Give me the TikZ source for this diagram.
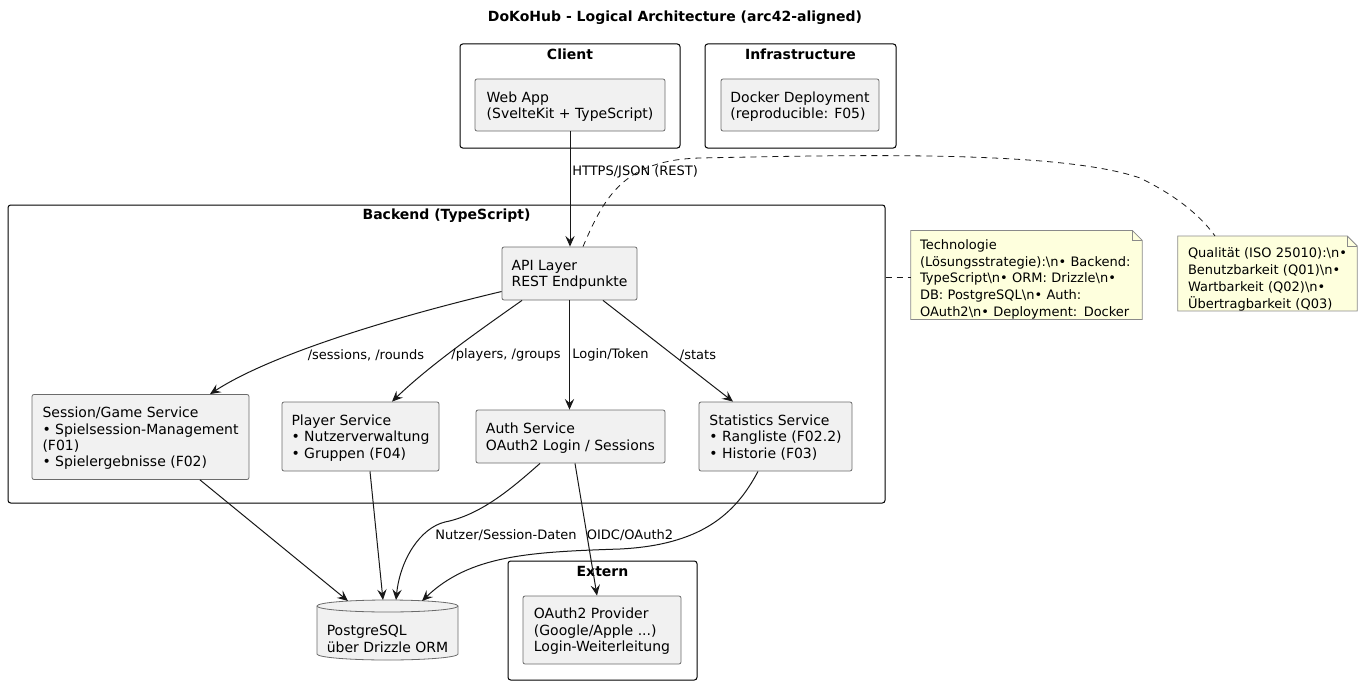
\documentclass[tikz,border=0pt]{standalone}
\usepackage{fontspec}
\setmainfont{DejaVu Sans}
\usetikzlibrary{arrows.meta,calc,backgrounds}
\definecolor{cfill}{HTML}{F1F1F1}
\definecolor{cline}{HTML}{6B6B6B}
\definecolor{nfill}{HTML}{FEFFDD}
\definecolor{nline}{HTML}{8A8A8A}
\definecolor{ink}{HTML}{181818}
\newcommand\fcomp{\fontsize{10.5}{12.3}\selectfont}
\newcommand\fnote{\fontsize{9.75}{12.6}\selectfont}
\newcommand\flab{\fontsize{9.75}{11.7}\selectfont}
\newcommand\fpkg{\bfseries\fontsize{10.5}{12}\selectfont}
\begin{document}
\begin{tikzpicture}[x=0.75pt,y=-0.75pt,
  comp/.style={draw=cline, fill=cfill, line width=0.6pt, rounded corners=1.5pt, align=left, font=\fcomp, inner sep=0pt, text depth=-1.6pt},
  pkg/.style={draw=black, line width=0.75pt, rounded corners=2pt, inner sep=0pt},
  pkgtitle/.style={font=\fpkg, inner sep=0pt},
  note/.style={align=left, font=\fnote, inner ysep=0pt, execute at begin node={\rule{0pt}{14pt}}},
  notebox/.style={draw=nline, fill=nfill, line width=0.6pt},
  lab/.style={font=\flab, inner sep=0pt},
  arr/.style={draw=ink, line width=0.75pt, -{Stealth[length=8pt,width=7pt,inset=3pt]}},
  notelink/.style={draw=ink, line width=0.6pt, dash pattern=on 4.5pt off 3.75pt}
]
\useasboundingbox (0,0) rectangle (1363,685);

\node[font=\fpkg] (title) at (675,18) {DoKoHub - Logical Architecture (arc42-aligned)};

% packages
\node[pkg, minimum width=165pt, minimum height=78pt] (client) at (570,96) {};
\node[pkgtitle] (clientT) at ($(client.north)+(0,11)$) {Client};
\node[pkg, minimum width=143.25pt, minimum height=78pt] (infra) at (800.5,96) {};
\node[pkgtitle] (infraT) at ($(infra.north)+(0,11)$) {Infrastructure};
\node[pkg, minimum width=657.75pt, minimum height=223.5pt] (backend) at (446.5,354) {};
\node[pkgtitle] (backendT) at ($(backend.north)+(0,11)$) {Backend (TypeScript)};
\node[pkg, minimum width=141.75pt, minimum height=89.25pt] (extern) at (602.5,620.5) {};
\node[pkgtitle] (externT) at ($(extern.north)+(0,11)$) {Extern};

% components
\node[comp, minimum width=142.5pt, minimum height=39pt] (web) at (570,105) {Web App\\(SvelteKit + TypeScript)};
\node[comp, minimum width=118.5pt, minimum height=39pt] (docker) at (800,105) {Docker Deployment\\(reproducible: F05)};
\node[comp, minimum width=101.25pt, minimum height=39.75pt] (api) at (569.5,273.5) {API Layer\\REST Endpunkte};
\node[comp, minimum width=162.75pt, minimum height=63.75pt] (sess) at (140.5,437) {Session/Game Service\\• Spielsession-Management\\(F01)\\• Spielergebnisse (F02)};
\node[comp, minimum width=117.75pt, minimum height=51.75pt] (player) at (360.5,436.5) {Player Service\\• Nutzerverwaltung\\• Gruppen (F04)};
\node[comp, minimum width=141.75pt, minimum height=39.75pt] (auth) at (570.5,436.5) {Auth Service\\OAuth2 Login / Sessions};
\node[comp, minimum width=114.75pt, minimum height=51.75pt] (stats) at (775.5,436.5) {Statistics Service\\• Rangliste (F02.2)\\• Historie (F03)};
\node[comp, minimum width=118.5pt, minimum height=51pt] (prov) at (602,630) {OAuth2 Provider\\(Google/Apple ...)\\Login-Weiterleitung};

% database cylinder
\draw[draw=cline, fill=cfill, line width=0.6pt] (317,606) -- (317,654)
  arc[start angle=180, end angle=360, x radius=52.875pt, y radius=4.5pt] -- (458,606)
  arc[start angle=0, end angle=180, x radius=52.875pt, y radius=4.5pt] -- cycle;
\draw[draw=cline, line width=0.6pt] (317,606) arc[start angle=180, end angle=360, x radius=52.875pt, y radius=4.5pt];
\node[align=left, font=\fcomp, inner sep=0pt] (db) at (387.5,639) {PostgreSQL\\über Drizzle ORM};

% notes
\node[note, text width=159.75pt, inner xsep=6.75pt, minimum height=64.5pt] (tech) at (1026.5,275) {Technologie\\(Lösungsstrategie):\textbackslash n• Backend:\\TypeScript\textbackslash n• ORM: Drizzle\textbackslash n•\\DB: PostgreSQL\textbackslash n• Auth:\\OAuth2\textbackslash n• Deployment: Docker};
\node[note, text width=119.25pt, inner xsep=7.5pt, minimum height=54.75pt, execute at begin node={\rule{0pt}{16pt}}] (qual) at (1267.5,273.5) {Qualität (ISO 25010):\textbackslash n•\\Benutzbarkeit (Q01)\textbackslash n•\\Wartbarkeit (Q02)\textbackslash n•\\Übertragbarkeit (Q03)};
\begin{scope}[on background layer]
\foreach \n in {tech,qual}{
  \draw[notebox] (\n.north west) -- ($(\n.north east)+(-10,0)$) -- ($(\n.north east)+(0,10)$) -- (\n.south east) -- (\n.south west) -- cycle;
  \draw[notebox, fill=none] ($(\n.north east)+(-10,0)$) -- ($(\n.north east)+(-10,10)$) -- ($(\n.north east)+(0,10)$);
}
\end{scope}

% connectors
\draw[arr] (web.south) -- (web.south |- api.north);
\node[lab, anchor=west] (lhttp) at (572,172) {HTTPS/JSON (REST)};
\draw[notelink] ($(api.north)+(13.5,0)$) .. controls (605,195) and (625,160) .. (700,158)
  .. controls (850,155) and (1060,150) .. (1140,178)
  .. controls (1175,195) and (1200,215) .. ($(qual.north)+(-52.5,0)$);
\draw[notelink] ($(backend.east |- tech.west)+(0,2)$) -- ($(tech.west)+(0,2)$);

\draw[arr] ($(api.west)+(0,18)$) .. controls (390,318) and (270,355) .. ($(sess.north)+(69.5,0)$);
\draw[arr] ($(api.south)+(-47.5,0)$) .. controls (480,330) and (430,365) .. ($(player.north)+(31.5,0)$);
\draw[arr] (api.south) -- (api.south |- auth.north);
\draw[arr] ($(api.south)+(33.5,0)$) -- ($(stats.north)+(-42.5,0)$);
\node[lab] (lsess) at (366,355) {/sessions, /rounds};
\node[lab] (lplay) at (506,355) {/players, /groups};
\node[lab, anchor=west] (llog) at (572,355) {Login/Token};
\node[lab] (lstat) at (698,355) {/stats};

\draw[arr] ($(sess.south)+(59.5,0)$) -- ($(db.center)+(-39.5,-38)$);
\draw[arr] ($(player.south)+(9.5,0)$) -- ($(db.center)+(-4.5,-39)$);
\draw[arr] ($(auth.south)+(-30.5,0)$) .. controls (510,490) and (480,515) .. (445,522)
  .. controls (420,528) and (400,560) .. ($(db.center)+(8.5,-39)$);
\draw[arr] ($(auth.south)+(4.5,0)$) -- ($(prov.north)+(-5,0)$);
\draw[arr] ($(stats.south)+(-17.5,0)$) .. controls (735,515) and (700,545) .. (620,549)
  .. controls (530,552) and (470,555) .. ($(db.center)+(34.5,-38)$);
\node[lab] (lnutz) at (506,535) {Nutzer/Session-Daten};
\node[lab] (loidc) at (630,535) {OIDC/OAuth2};
\end{tikzpicture}
\end{document}
